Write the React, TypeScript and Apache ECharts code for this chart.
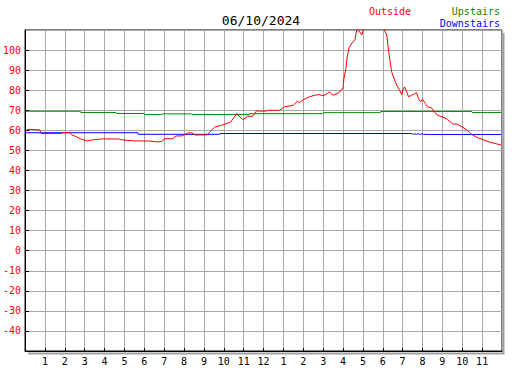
import React, { useEffect, useRef } from "react";
import * as echarts from "echarts";

const titleText = "06/10/2024";
const seriesNames = ["Outside", "Upstairs", "Downstairs"];
const seriesColors = ["#ff0000", "#008c00", "#0000ff"];

// [hour of day, temperature]
const outside: [number, number][] = [
  [0.03, 60], [0.2, 60.5], [0.75, 60.2], [0.8, 58.4], [1.85, 58.4], [1.9, 58.8], [2.25, 58.8],
  [2.35, 57.8], [2.6, 56.7], [2.85, 55.5], [3.1, 54.7], [3.45, 55.3], [3.85, 55.7], [4.7, 55.7],
  [4.85, 55.3], [5.15, 55], [5.5, 54.7], [6.2, 54.7], [6.65, 54.2], [6.9, 54.5], [7.0, 55.8],
  [7.4, 55.8], [7.6, 57.2], [7.9, 57.2], [8.2, 58.7], [8.4, 58.7], [8.55, 57.7], [9.15, 57.7],
  [9.3, 59.2], [9.55, 61.7], [9.9, 62.5], [10.35, 64.2], [10.65, 68.3], [10.95, 65.3], [11.2, 67],
  [11.45, 67], [11.65, 69.7], [12.05, 69.5], [12.3, 70], [12.8, 70], [13.05, 71.7], [13.5, 72.5],
  [13.7, 74.5], [13.8, 73.8], [13.95, 75], [14.3, 76.7], [14.6, 77.5], [14.8, 77.8], [15.0, 77.2],
  [15.2, 78.3], [15.3, 79.2], [15.5, 77.5], [15.7, 78.3], [15.85, 79.2], [16.0, 81.2], [16.05, 86],
  [16.15, 91], [16.2, 96], [16.3, 101], [16.45, 103.5], [16.6, 105], [16.65, 108.3], [16.7, 110],
  [16.8, 109.5], [16.95, 107.5], [17.05, 111], [17.35, 113], [17.75, 112], [18.05, 110.5],
  [18.2, 107.5], [18.3, 99], [18.45, 89], [18.6, 85], [18.7, 82.5], [18.85, 80], [18.95, 77.8],
  [19.05, 81], [19.1, 81.7], [19.2, 79.2], [19.3, 76.7], [19.45, 77.5], [19.6, 78.3], [19.7, 78.8],
  [19.8, 75.8], [19.9, 74.2], [20.0, 75.5], [20.15, 73.3], [20.25, 71.7], [20.45, 71.2],
  [20.6, 69.2], [20.75, 67.5], [21.0, 66.7], [21.25, 65.5], [21.5, 63.3], [21.75, 63], [22.0, 61.7],
  [22.25, 60], [22.5, 57.8], [22.7, 56.7], [23.0, 55.5], [23.35, 54.2], [23.7, 53.3], [23.95, 52.7],
];

const upstairs: [number, number][] = [
  [0.03, 69.5], [2.78, 69.5], [2.8, 68.9], [4.58, 68.9], [4.6, 68.4], [5.98, 68.4], [6.0, 67.9],
  [6.88, 67.9], [6.9, 68.2], [8.38, 68.2], [8.4, 67.9], [11.28, 67.9], [11.3, 68.3], [14.98, 68.3],
  [15.0, 68.8], [17.88, 68.8], [17.9, 69.4], [22.48, 69.4], [22.5, 68.9], [23.95, 68.9],
];

const downstairs: [number, number][] = [
  [0.03, 58.8], [5.68, 58.8], [5.7, 58.0], [9.78, 58.0], [9.8, 58.4], [19.45, 58.4], [19.5, 58.0],
  [19.6, 58.3], [19.7, 58.0], [19.8, 58.3], [19.9, 58.0], [20.0, 58.3], [20.05, 58.0], [20.4, 57.9],
  [23.95, 57.9],
];

const yMin = -50;
const yMax = 110;
const yStep = 10;
const xMin = 0;
const xMax = 24;

const MONO = "'DejaVu Sans Mono', monospace";

export default function App() {
  const ref = useRef<HTMLDivElement>(null);
  useEffect(() => {
    if (!ref.current) return;
    const chart = echarts.init(ref.current, null, { renderer: "svg" });
    const seriesData = [outside, upstairs, downstairs];
    chart.setOption({
      animation: false,
      backgroundColor: "#ffffff",
      grid: {
        left: 25,
        top: 30,
        width: 477,
        height: 321,
        show: true,
        borderColor: "#000000",
        borderWidth: 1,
        backgroundColor: "transparent",
      },
      graphic: [
        {
          type: "polyline",
          shape: { points: [[503.5, 33], [503.5, 353.5], [28, 353.5]] },
          style: { stroke: "#a0a0a0", lineWidth: 2, fill: null },
          silent: true,
        },
        {
          type: "text",
          x: 261,
          y: 20,
          style: {
            text: titleText,
            font: `13px ${MONO}`,
            fill: "#000000",
            textAlign: "center",
            textVerticalAlign: "middle",
          },
        },
        {
          type: "text",
          x: 369,
          y: 11,
          style: {
            text: seriesNames[0],
            font: `10px ${MONO}`,
            fill: seriesColors[0],
            textAlign: "left",
            textVerticalAlign: "middle",
          },
        },
        {
          type: "text",
          x: 500,
          y: 11,
          style: {
            text: seriesNames[1],
            font: `10px ${MONO}`,
            fill: seriesColors[1],
            textAlign: "right",
            textVerticalAlign: "middle",
          },
        },
        {
          type: "text",
          x: 500,
          y: 23,
          style: {
            text: seriesNames[2],
            font: `10px ${MONO}`,
            fill: seriesColors[2],
            textAlign: "right",
            textVerticalAlign: "middle",
          },
        },
      ],
      xAxis: {
        type: "value",
        min: xMin,
        max: xMax,
        interval: 1,
        axisLine: { show: true, onZero: false, lineStyle: { color: "#000000", width: 1 } },
        axisTick: { show: true, inside: true, length: 3, lineStyle: { color: "#000000" } },
        splitLine: { show: true, lineStyle: { color: "#a8a8a8", width: 1 } },
        axisLabel: {
          show: true,
          margin: 5,
          color: "#000000",
          fontFamily: MONO,
          fontSize: 10,
          showMinLabel: false,
          showMaxLabel: false,
          formatter: (v: number) => {
            if (v <= xMin || v >= xMax) return "";
            const h = v % 12;
            return String(h === 0 ? 12 : h);
          },
        },
      },
      yAxis: {
        type: "value",
        min: yMin,
        max: yMax,
        interval: yStep,
        axisLine: { show: true, onZero: false, lineStyle: { color: "#000000", width: 1 } },
        axisTick: { show: true, inside: true, length: 4, lineStyle: { color: "#000000" } },
        splitLine: { show: true, lineStyle: { color: "#a8a8a8", width: 1 } },
        axisLabel: {
          show: true,
          margin: 4,
          color: "#ff0000",
          fontFamily: MONO,
          fontSize: 10,
          showMinLabel: false,
          showMaxLabel: false,
          formatter: (v: number) => (v <= yMin || v >= yMax ? "" : String(v)),
        },
      },
      series: [1, 2, 0].map((i) => ({
        name: seriesNames[i],
        type: "line",
        data: seriesData[i],
        showSymbol: false,
        clip: true,
        silent: true,
        lineStyle: { color: seriesColors[i], width: 1 },
        z: i === 0 ? 5 : 3,
      })),
    });
    return () => chart.dispose();
  }, []);
  return (
    <div
      ref={ref}
      style={{ position: "absolute", left: 0, top: 0, width: 527, height: 370, background: "#fff" }}
    />
  );
}
